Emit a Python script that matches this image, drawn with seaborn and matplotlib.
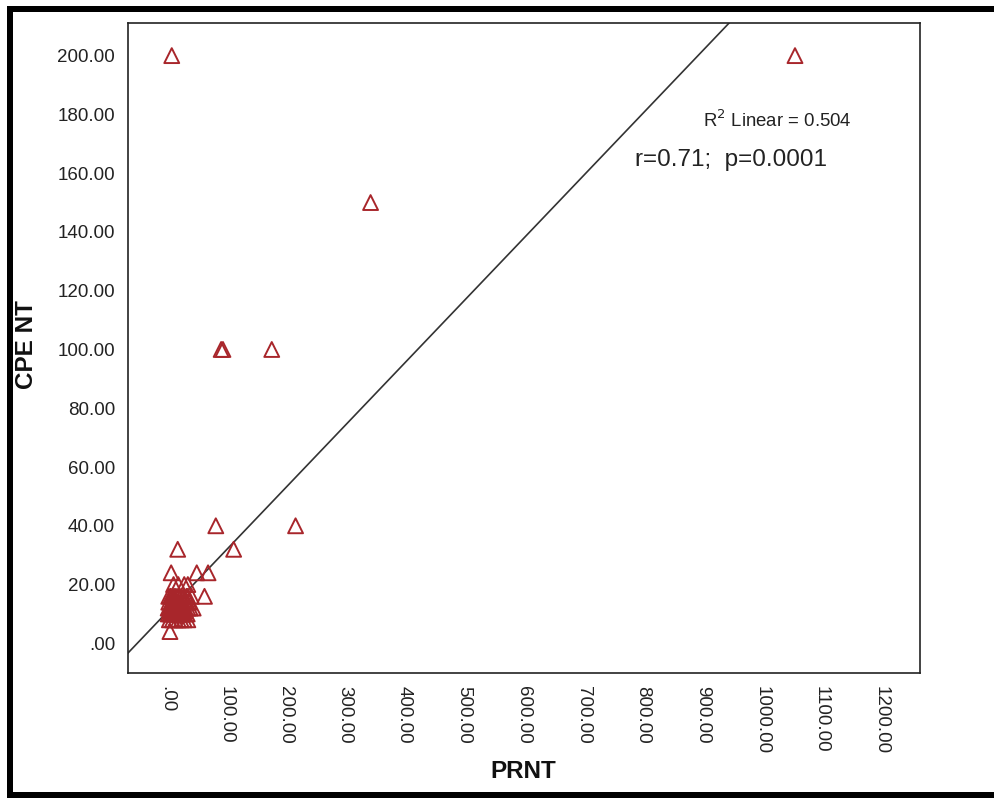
import numpy as np
import pandas as pd
import seaborn as sns
import matplotlib
matplotlib.use("Agg")
import matplotlib.pyplot as plt
from matplotlib.patches import Rectangle
from matplotlib.ticker import FuncFormatter

# ---- data ----
prnt_outer = [9, 1056, 343, 92, 95, 177, 83, 217, 19, 113, 8, 51, 70,
              12, 20, 30, 36, 64, 36, 6]
cpe_outer = [200, 200, 150, 100, 100, 100, 40, 40, 32, 32, 24, 24, 24,
             20, 20, 20, 20, 16, 16, 4]

prnt_cluster = [4, 7, 10, 13, 16, 20, 25, 30, 34, 42,
                3, 5, 8, 11, 14, 17, 20, 23, 26, 29, 32, 36, 40, 45,
                4, 8, 12, 16, 20, 24, 28, 33, 38,
                3, 6, 9, 12, 15, 18, 21, 24, 27, 30, 35,
                5, 8, 11, 14, 17, 20, 24, 28, 32,
                5, 10, 15, 20, 25, 30, 36]
cpe_cluster = [16, 16, 16, 16, 16, 16, 16, 16, 16, 16,
               12, 12, 12, 12, 12, 12, 12, 12, 12, 12, 12, 12, 12, 12,
               14, 14, 14, 14, 14, 14, 14, 14, 14,
               10, 10, 10, 10, 10, 10, 10, 10, 10, 10, 10,
               11, 11, 11, 11, 11, 11, 11, 11, 11,
               8, 8, 8, 8, 8, 8, 8]

fit_intercept = 10.4
fit_slope = 0.2123

x_ticks = [0, 100, 200, 300, 400, 500, 600, 700, 800, 900, 1000, 1100, 1200]
y_ticks = [0, 20, 40, 60, 80, 100, 120, 140, 160, 180, 200]

df = pd.DataFrame({"PRNT": prnt_outer + prnt_cluster,
                   "CPE NT": cpe_outer + cpe_cluster})

# ---- style ----
sns.set_style("white")
plt.rcParams["font.family"] = ["Liberation Sans", "DejaVu Sans"]

W, H = 995, 798
fig = plt.figure(figsize=(W / 100, H / 100), dpi=100)
ax = fig.add_axes([127.7 / W, 1 - 673.3 / H, (920 - 127.7) / W, (673.3 - 22.7) / H])

marker_color = "#a8262b"
sns.scatterplot(data=df, x="PRNT", y="CPE NT", ax=ax, marker="^", s=115,
                facecolor="none", edgecolor=marker_color, linewidth=1.4,
                legend=False, zorder=3)

ax.axline((0, fit_intercept), slope=fit_slope, color="#333333", lw=1.2, zorder=2)

ax.set_xlim(-65, 1266)
ax.set_ylim(-10.2, 211.2)
ax.set_xticks(x_ticks)
ax.set_yticks(y_ticks)


def fmt(v, pos):
    s = f"{v:.2f}"
    if s.startswith("0."):
        s = s[1:]
    return s


ax.xaxis.set_major_formatter(FuncFormatter(fmt))
ax.yaxis.set_major_formatter(FuncFormatter(fmt))

for sp in ax.spines.values():
    sp.set_visible(True)
    sp.set_color("#222222")
    sp.set_linewidth(1.2)

ax.tick_params(axis="both", direction="out", length=7, width=1.1, color="#222222",
               labelsize=13.5, labelcolor="#222222", pad=2)
ax.tick_params(axis="x", labelrotation=-90, pad=2)
ax.tick_params(axis="y", length=8, pad=1)

ax.set_xlabel("PRNT", fontsize=17.5, fontweight="bold", color="#111111")
ax.set_ylabel("CPE NT", fontsize=17.5, fontweight="bold", color="#111111")
ax.xaxis.label.set_va("center")
ax.yaxis.label.set_va("center")
ax.xaxis.set_label_coords(0.499, -(772 - 673.3) / 650.6)
ax.yaxis.set_label_coords((26 - 127.7) / 792.3, 0.505)

# annotations
fig.text(703 / W, 1 - 120 / H, r"R$^2$ Linear = 0.504", fontsize=13.4,
         color="#222222", va="center", ha="left")
fig.text(635 / W, 1 - 160 / H, "r=0.71;  p=0.0001", fontsize=17.5,
         color="#222222", va="center", ha="left")

# outer black frame bars
for (x0, y0, w, h) in [(7, 6, 6, 792), (7, 6, 988, 6), (7, 792, 988, 6)]:
    fig.patches.append(Rectangle((x0 / W, 1 - (y0 + h) / H), w / W, h / H,
                                 transform=fig.transFigure, facecolor="black",
                                 edgecolor="none", zorder=10))

fig.savefig("out.png", dpi=100, facecolor="white")
